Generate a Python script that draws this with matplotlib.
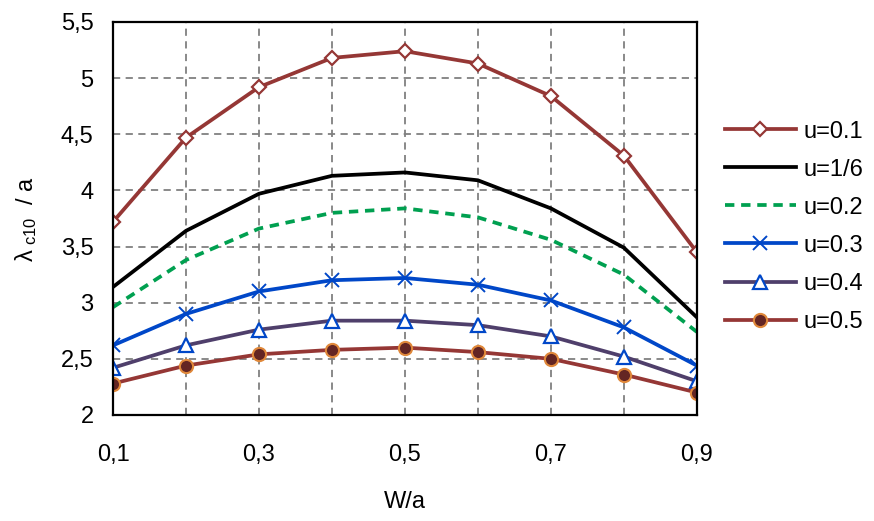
import numpy as np
import matplotlib as mpl
mpl.use('agg')
import matplotlib.pyplot as plt

# data
w_a = [0.1, 0.2, 0.3, 0.4, 0.5, 0.6, 0.7, 0.8, 0.9]
u01 = [3.72, 4.47, 4.92, 5.18, 5.24, 5.13, 4.84, 4.31, 3.45]
u16 = [3.14, 3.64, 3.97, 4.13, 4.16, 4.09, 3.84, 3.49, 2.87]
u02 = [2.96, 3.38, 3.66, 3.80, 3.84, 3.76, 3.56, 3.25, 2.74]
u03 = [2.62, 2.90, 3.10, 3.20, 3.22, 3.16, 3.02, 2.78, 2.44]
u04 = [2.42, 2.62, 2.76, 2.84, 2.84, 2.80, 2.70, 2.52, 2.30]
u05 = [2.28, 2.44, 2.54, 2.58, 2.60, 2.56, 2.50, 2.36, 2.20]

xticks = [0.1, 0.3, 0.5, 0.7, 0.9]
xgrid_minor = [0.2, 0.4, 0.6, 0.8]
yticks = [2, 2.5, 3, 3.5, 4, 4.5, 5, 5.5]

plt.rcParams['font.family'] = ['Liberation Sans', 'DejaVu Sans']
plt.rcParams['mathtext.fontset'] = 'custom'
plt.rcParams['mathtext.rm'] = 'Liberation Sans'
fs = 17

fig = plt.figure(figsize=(8.74, 5.21), dpi=100)
ax = fig.add_axes([0.1293, 0.2035, 0.668, 0.7543])

red = '#953735'
lw = 2.7
ax.plot(w_a, u01, color=red, lw=lw, marker='D', ms=7.5, mfc='white', mec=red, mew=1.6, label='u=0.1')
ax.plot(w_a, u16, color='black', lw=lw, label='u=1/6')
ax.plot(w_a, u02, color='#00A050', lw=lw, ls=(0, (2.5, 1.8)), label='u=0.2')
ax.plot(w_a, u03, color='#0047C8', lw=lw, marker='x', ms=10, mew=1.4, label='u=0.3')
ax.plot(w_a, u04, color='#4F3F6B', lw=lw, marker='^', ms=10, mfc='white', mec='#0047C8', mew=1.6, label='u=0.4')
ax.plot(w_a, u05, color=red, lw=lw, marker='o', ms=9.5, mfc='#632523', mec='#E0883A', mew=1.5, label='u=0.5')

ax.set_xlim(0.1, 0.9)
ax.set_ylim(2, 5.5)
ax.set_xticks(xticks)
ax.set_xticks(xgrid_minor, minor=True)
ax.set_xticklabels([f'{v:.1f}'.replace('.', ',') for v in xticks])
ax.set_yticks(yticks)
ax.set_yticklabels([f'{v:g}'.replace('.', ',') for v in yticks])
ax.tick_params(which='both', length=0, labelsize=fs)
ax.tick_params(axis='x', pad=21)
ax.tick_params(axis='y', pad=14)
ax.grid(True, which='both', color='#808080', ls=(0, (4, 3)), lw=1.3)
for s in ax.spines.values():
    s.set_linewidth(1.6)
    s.set_color('black')

ax.set_xlabel('W/a', fontsize=fs, labelpad=18)
ax.set_ylabel(r'$\mathregular{\lambda_{\ c10}}$  / a', fontsize=fs, labelpad=16)

ax.legend(loc='center left', bbox_to_anchor=(1.048, 0.479), frameon=False, fontsize=fs,
          handlelength=3.0, labelspacing=0.68, handletextpad=0.35, borderaxespad=0, borderpad=0)

fig.savefig('out.png', dpi=100, facecolor='w')
